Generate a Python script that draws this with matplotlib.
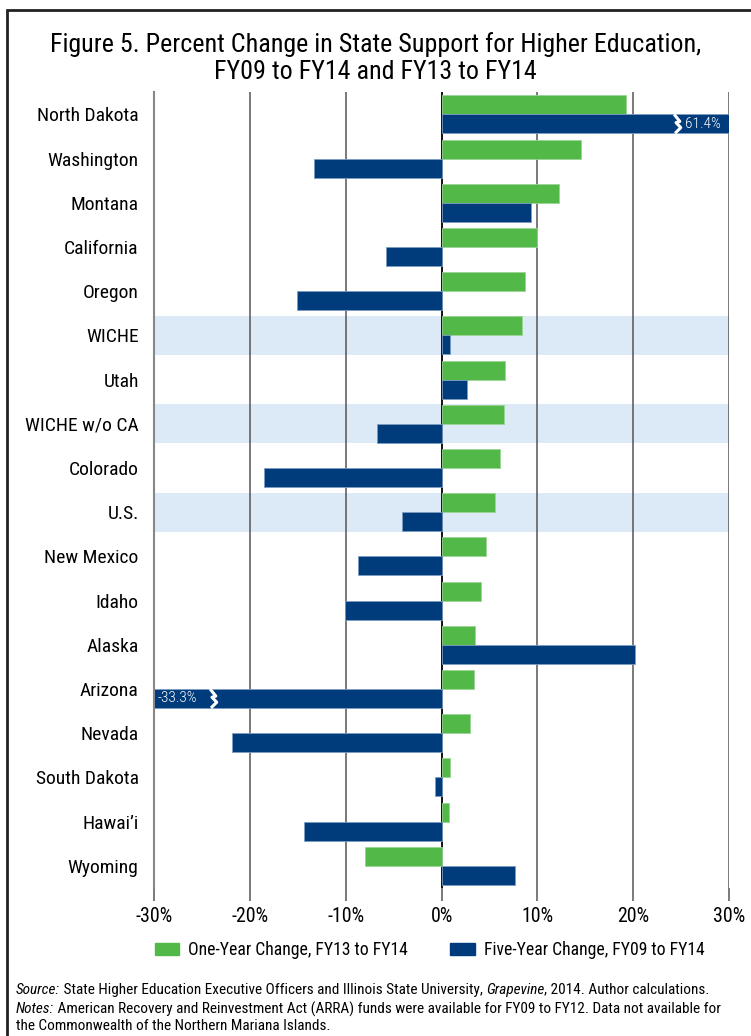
import matplotlib
matplotlib.use("Agg")
import matplotlib.pyplot as plt
from matplotlib import font_manager
from matplotlib.patches import Patch, Rectangle
import numpy as np

# pick the narrowest family that is installed
installed = {f.name for f in font_manager.fontManager.ttflist}
candidates = ["Liberation Sans Narrow", "Roboto Condensed", "Open Sans Condensed",
              "Noto Sans Condensed", "DejaVu Sans Condensed", "Roboto", "Liberation Sans"]
family = next((c for c in candidates if c in installed), "DejaVu Sans")
plt.rcParams['font.family'] = [family, 'DejaVu Sans']

# data (percent change)
states = ["North Dakota", "Washington", "Montana", "California", "Oregon", "WICHE",
          "Utah", "WICHE w/o CA", "Colorado", "U.S.", "New Mexico", "Idaho", "Alaska",
          "Arizona", "Nevada", "South Dakota", "Hawai\u2019i", "Wyoming"]
one_year = [19.2, 14.5, 12.2, 9.9, 8.7, 8.4, 6.6, 6.5, 6.1, 5.6, 4.6, 4.1, 3.5,
            3.4, 3.0, 0.9, 0.8, -8.0]
five_year = [61.4, -13.3, 9.3, -5.8, -15.1, 0.9, 2.6, -6.7, -18.5, -4.1, -8.7, -10.1,
             20.2, -33.3, -21.9, -0.7, -14.4, 7.7]
highlight = ["WICHE", "WICHE w/o CA", "U.S."]
ticks = [-30, -20, -10, 0, 10, 20, 30]

green = "#52b848"
blue = "#003b7b"
band = "#dce9f6"

fig = plt.figure(figsize=(7.51, 10.36), dpi=100)
renderer = fig.canvas.get_renderer()


def fit_size(text, target_px, style="normal", cap=None):
    """font size that makes `text` about target_px wide"""
    t = fig.text(0, 0, text, fontsize=10, style=style)
    w = t.get_window_extent(renderer=renderer).width
    t.remove()
    s = 10 * target_px / w
    return min(s, cap) if cap else s


title_fs = fit_size("Figure 5. Percent Change in State Support for Higher Education,", 648, cap=20)
label_fs = fit_size("North Dakota", 107, cap=14)
tick_fs = fit_size("-30%", 37, cap=15)
legend_fs = fit_size("One-Year Change, FY13 to FY14", 219, cap=14)
note_fs = fit_size("Source: State Higher Education Executive Officers and Illinois State University, "
                   "Grapevine, 2014. Author calculations.", 704, cap=11)
bar_fs = fit_size("61.4%", 37, cap=11)

ax = fig.add_axes([0.205, 0.143, 0.766, 0.768])

y = np.arange(len(states))
h = 0.43
ax.set_xlim(-30, 30)
ax.set_ylim(len(states) - 0.5, -0.5)

for i, s in enumerate(states):
    if s in highlight:
        ax.axhspan(i - 0.44, i + 0.44, color=band, zorder=0, lw=0)

for t in ticks:
    ax.axvline(t, color="#000000" if t == 0 else "#555555", lw=1.3 if t == 0 else 1.1, zorder=1)

ax.barh(y - h / 2, one_year, height=h, color=green, edgecolor="#9ad594", lw=0.6, zorder=2)
ax.barh(y + h / 2, five_year, height=h, color=blue, edgecolor="#7d9cc4", lw=0.6, zorder=2)

# broken bars: zigzag + value label
for i, v in enumerate(five_year):
    if v > 30 or v < -30:
        xb = 24.6 if v > 0 else -23.8
        yc = i + h / 2
        zx = [xb - 0.35, xb + 0.25, xb - 0.15, xb + 0.35, xb - 0.25]
        zy = [yc - h / 2, yc - h / 8, yc - h / 16, yc + h / 5, yc + h / 2]
        ax.plot(zx, zy, color="white", lw=2.2, zorder=3, solid_capstyle="butt")
        xt = xb + 0.8 if v > 0 else -29.6
        ax.text(xt, yc, f"{v:.1f}%", color="white", va="center", ha="left",
                fontsize=bar_fs, fontweight="light", zorder=4)

ax.set_yticks(y)
ax.set_yticklabels(states, fontsize=label_fs)
ax.tick_params(axis="y", length=0, pad=11)
ax.set_xticks(ticks)
ax.set_xticklabels([f"{t}%" for t in ticks], fontsize=tick_fs)
ax.tick_params(axis="x", length=9, width=1.1, color="#555555", pad=5)
for side in ["top", "bottom", "right"]:
    ax.spines[side].set_visible(False)
ax.spines["left"].set_color("#888888")
ax.spines["left"].set_linewidth(1.5)

fig.text(0.5, 0.944, "Figure 5. Percent Change in State Support for Higher Education,\nFY09 to FY14 and FY13 to FY14",
         ha="center", va="center", fontsize=title_fs, linespacing=1.2)

handles = [Patch(color=green, label="One-Year Change, FY13 to FY14"),
           Patch(color=blue, label="Five-Year Change, FY09 to FY14")]
fig.legend(handles=handles, loc="center", bbox_to_anchor=(0.572, 0.083), ncol=2,
           frameon=False, fontsize=legend_fs, handlelength=1.4, handleheight=0.7,
           columnspacing=2.4, handletextpad=0.5)


# footnotes with mixed italic pieces
def draw_pieces(x, yy, pieces, size):
    for txt, style in pieces:
        t = fig.text(x, yy, txt, fontsize=size, style=style, va="baseline", ha="left")
        bb = t.get_window_extent(renderer=renderer)
        x += bb.width / fig.bbox.width


draw_pieces(0.021, 0.041, [("Source:", "italic"),
                           (" State Higher Education Executive Officers and Illinois State University, ", "normal"),
                           ("Grapevine", "italic"), (", 2014. Author calculations.", "normal")], note_fs)
draw_pieces(0.021, 0.022, [("Notes:", "italic"),
                           (" American Recovery and Reinvestment Act (ARRA) funds were available for FY09 to FY12. Data not available for", "normal")], note_fs)
fig.text(0.021, 0.006, "the Commonwealth of the Northern Mariana Islands.", fontsize=note_fs, va="baseline")

# outer frame
fig.add_artist(Rectangle((0.009, -0.01), 1.0, 1.0, transform=fig.transFigure,
                         fill=False, edgecolor="#222222", lw=2))

fig.savefig("out.png", dpi=100)
